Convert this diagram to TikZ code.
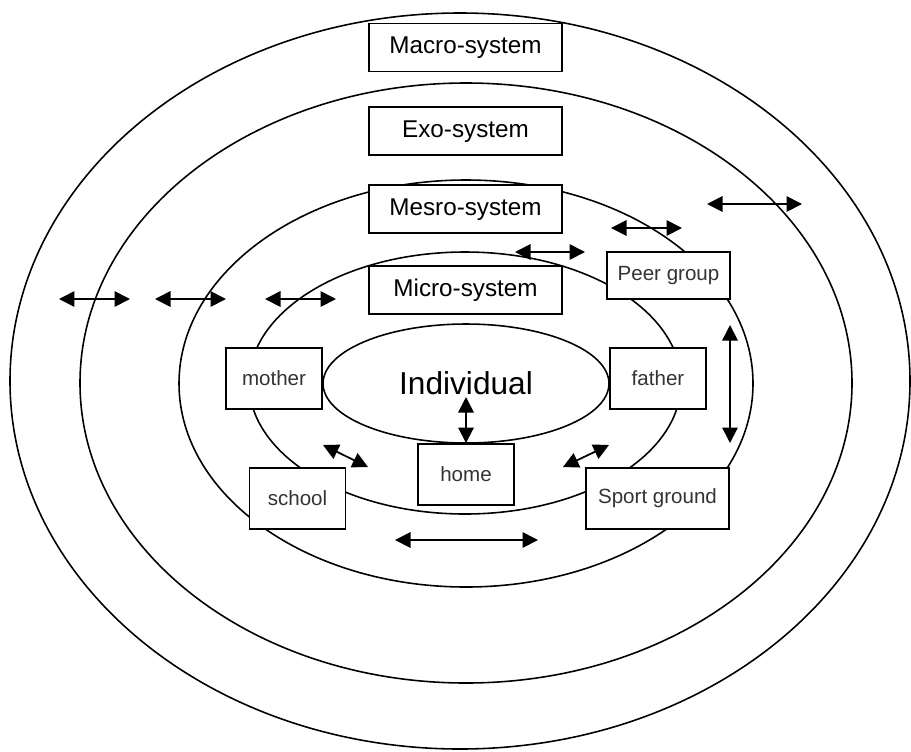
\documentclass[tikz,border=0pt]{standalone}
\usepackage{fontspec}
\setmainfont{Liberation Sans}
\usetikzlibrary{shapes,positioning,arrows.meta}

\begin{document}
\begin{tikzpicture}[x=0.02cm, y=-0.02cm,
	ring/.style={line width=0.9pt},
	sysbox/.style={draw, fill=white, line width=1.1pt, minimum width=3.86cm, minimum height=0.96cm, inner sep=0pt, font=\fontsize{13.8}{16}\selectfont},
	smallbox/.style={draw, fill=white, line width=1.1pt, minimum width=1.92cm, minimum height=1.22cm, inner sep=0pt, text=black!80, font=\fontsize{11.7}{14}\selectfont},
	dbl/.style={{Triangle[length=3.1mm,width=3.1mm]}-{Triangle[length=3.1mm,width=3.1mm]}, line width=1pt}]
	\useasboundingbox (0,0) rectangle (911,751);

	% the rings
	\draw [ring] (460,381) ellipse [x radius=450, y radius=368];
	\draw [ring] (466,383) ellipse [x radius=386, y radius=300];
	\draw [ring] (466,383.5) ellipse [x radius=287, y radius=203.5];
	\draw [ring] (465,383) ellipse [x radius=216, y radius=131];

	\node [draw, ellipse, line width=0.9pt, minimum width=5.72cm, minimum height=2.38cm, inner sep=0pt, font=\fontsize{18}{20}\selectfont] (indiv) at (466,383.5) {Individual};

	\node [sysbox] (macro) at (465.5,47.5) {Macro-system};
	\node [sysbox, below=0.68cm of macro] (exo) {Exo-system};
	\node [sysbox, below=0.56cm of exo] (mesro) {Mesro-system};
	\node [sysbox, below=0.62cm of mesro] (micro) {Micro-system};

	\node [smallbox, minimum width=2.46cm, minimum height=0.94cm] (peer) at (668.5,275.5) {Peer group};
	\node [smallbox] (mother) at (274,378.5) {mother};
	\node [smallbox] (father) at (658,378.5) {father};
	\node [smallbox] (home) at (466,474.5) {home};
	\node [smallbox] (school) at (297.5,498.5) {school};
	\node [smallbox, minimum width=2.86cm] (sport) at (657.5,498.5) {Sport ground};

	% free arrow ends
	\coordinate (w1a) at (59,299);  \coordinate (w1b) at (130,299);
	\coordinate (w2a) at (155,299); \coordinate (w2b) at (226,299);
	\coordinate (w3a) at (265,299); \coordinate (w3b) at (336,299);
	\coordinate (n1a) at (515,252); \coordinate (n1b) at (585,252);
	\coordinate (n2a) at (611,228); \coordinate (n2b) at (682,228);
	\coordinate (n3a) at (707,204); \coordinate (n3b) at (802,204);
	\coordinate (e1a) at (730,325); \coordinate (e1b) at (730,443);
	\coordinate (i1) at (466,397);
	\coordinate (s1a) at (323,445); \coordinate (s1b) at (368,467);
	\coordinate (g1a) at (563,467); \coordinate (g1b) at (609,445);
	\coordinate (b1a) at (395,540); \coordinate (b1b) at (538,540);

	\draw [dbl] (w1a) -- (w1b);
	\draw [dbl] (w2a) -- (w2b);
	\draw [dbl] (w3a) -- (w3b);
	\draw [dbl] (n1a) -- (n1b);
	\draw [dbl] (n2a) -- (n2b);
	\draw [dbl] (n3a) -- (n3b);
	\draw [dbl] (e1a) -- (e1b);
	\draw [dbl] (i1) -- (home.north);
	\draw [dbl] (s1a) -- (s1b);
	\draw [dbl] (g1a) -- (g1b);
	\draw [dbl] (b1a) -- (b1b);
\end{tikzpicture}
\end{document}
